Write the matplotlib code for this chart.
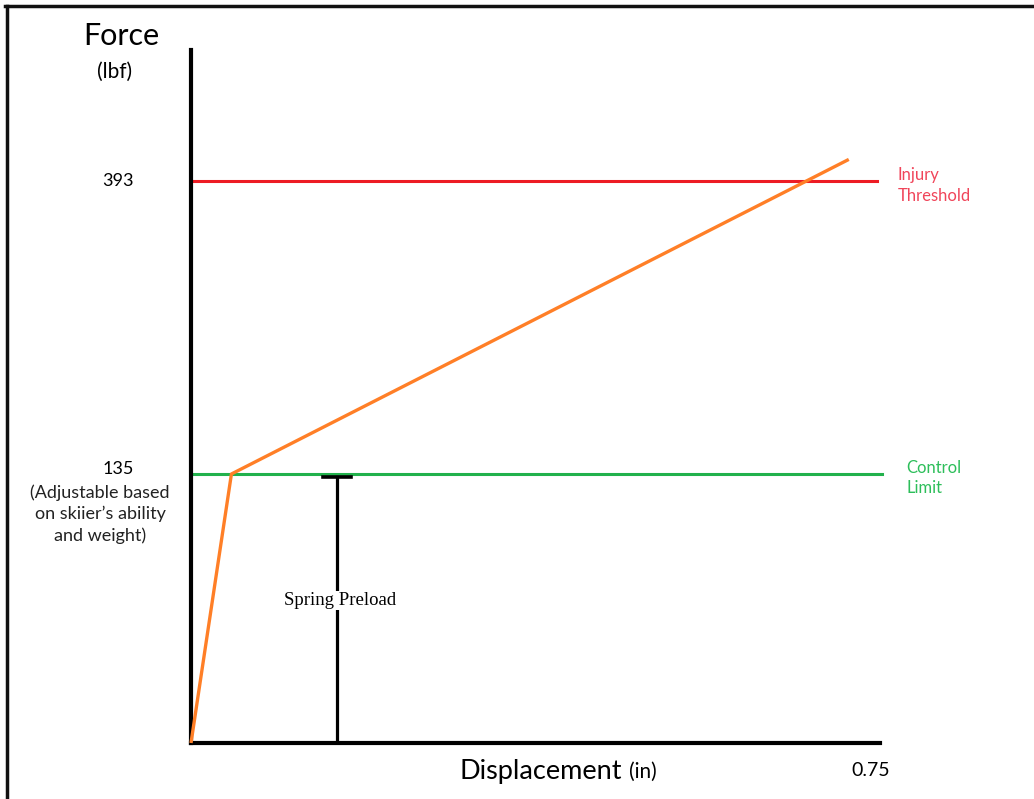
import numpy as np
import matplotlib.pyplot as plt
from matplotlib.lines import Line2D

# 数据（示意图，读自原图）
disp = [0.0, 0.044, 0.716]        # in
force = [0.0, 135.0, 412.0]       # lbf
injury_force = 393
control_force = 135
preload_x = 0.159
preload_top = 133.5
x_max = 0.75

# 原图纵轴不是线性的：分段线性映射
knots_f = np.array([0.0, 135.0, 393.0, 1000.0])
knots_p = np.array([0.0, 269.0, 562.0, 562.0 + 607.0 * (293.0 / 258.0)])


def fwd(v):
    return np.interp(v, knots_f, knots_p)


def inv(v):
    return np.interp(v, knots_p, knots_f)


fig = plt.figure(figsize=(10.34, 7.99), dpi=100)
ax = fig.add_axes([191 / 1034, 1 - 743 / 799, 689 / 1034, 693 / 799])
ax.set_yscale('function', functions=(fwd, inv))
ax.set_xlim(0, x_max)
ax.set_ylim(0, inv(693.0))

for s in ['top', 'right']:
    ax.spines[s].set_visible(False)
for s in ['left', 'bottom']:
    ax.spines[s].set_linewidth(3)
    ax.spines[s].set_color('black')
ax.set_xticks([])
ax.set_yticks([])

# 水平线
ax.plot([0.002, 0.7467], [injury_force, injury_force], color='#ED1C24', lw=2.2, clip_on=False)
ax.plot([0.002, 0.752], [control_force, control_force], color='#22B14C', lw=2.2, clip_on=False)

# 弹簧预载
ax.plot([preload_x, preload_x], [0, preload_top], color='black', lw=2.3, zorder=3)
ax.plot([preload_x - 0.015, preload_x + 0.015], [preload_top, preload_top], color='black', lw=2.6, zorder=3)
ax.text(preload_x + 0.003, 71.5, 'Spring Preload', family='Liberation Serif', fontsize=13.5,
        ha='center', va='center', zorder=4,
        bbox=dict(facecolor='white', edgecolor='none', pad=1.0))

# 力-位移曲线
ax.plot(disp, force, color='#FF7F27', lw=2.4, zorder=5, clip_on=False, solid_capstyle='butt')

sans = ['Lato', 'DejaVu Sans']
yt = ax.get_yaxis_transform()
ax.text(-0.106, injury_force, '393', transform=yt, fontsize=13, family=sans, ha='center', va='center')
ax.text(-0.106, control_force + 4, '135', transform=yt, fontsize=13, family=sans, ha='center', va='center')
ax.text(-0.132, control_force - 5, '(Adjustable based\non skiier\u2019s ability\nand weight)', transform=yt,
        fontsize=13, family=sans, ha='center', va='top', color='#222222', linespacing=1.4)

ax.text(1.026, injury_force + 5, 'Injury', transform=yt, fontsize=12, family=sans,
        ha='left', va='center', color='#F0455A')
ax.text(1.026, injury_force - 13, 'Threshold', transform=yt, fontsize=12, family=sans,
        ha='left', va='center', color='#F0455A')
ax.text(1.038, control_force + 5, 'Control', transform=yt, fontsize=12, family=sans,
        ha='left', va='center', color='#2DBE5A')
ax.text(1.038, control_force - 7, 'Limit', transform=yt, fontsize=12, family=sans,
        ha='left', va='center', color='#2DBE5A')

# 轴标题
fig.text(121.5 / 1034, 1 - 36 / 799, 'Force', fontsize=22, family=sans, ha='center', va='center')
fig.text(115 / 1034, 1 - 72 / 799, '(lbf)', fontsize=15, family=sans, ha='center', va='center')
fig.text(622 / 1034, 1 - 772 / 799, 'Displacement', fontsize=19.5, family=sans, ha='right', va='center')
fig.text(629 / 1034, 1 - 772 / 799, '(in)', fontsize=15, family=sans, ha='left', va='center')
fig.text(871 / 1034, 1 - 771 / 799, '0.75', fontsize=14, family=sans, ha='center', va='center')

# 外框（上、左）
fig.add_artist(Line2D([0.005, 1.0], [1 - 6 / 799, 1 - 6 / 799], color='#111111', lw=2.5))
fig.add_artist(Line2D([6.5 / 1034, 6.5 / 1034], [0, 1 - 6 / 799], color='#111111', lw=2.5))

fig.savefig('out.png', dpi=100)
